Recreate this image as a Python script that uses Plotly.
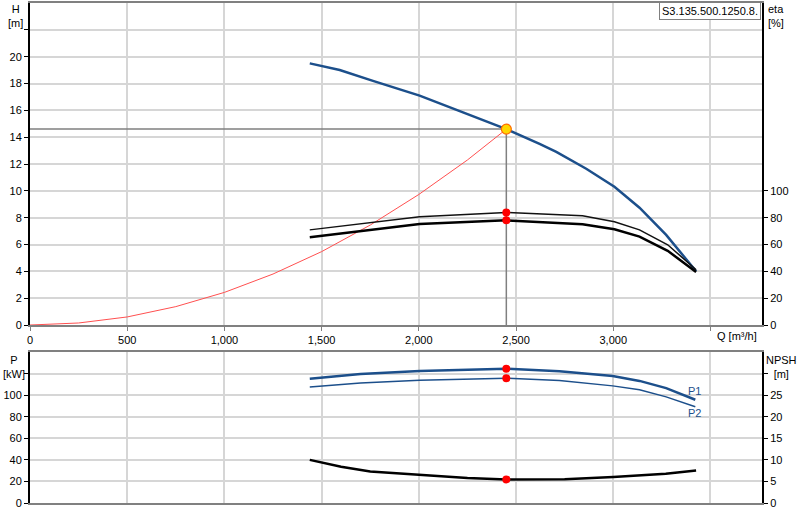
import plotly.graph_objects as go

# pump curve data
q_h = [1439, 1593, 1764, 2004, 2227, 2450, 2621, 2707, 2861, 3006, 3135, 3272, 3426]
h = [19.5, 19.0, 18.2, 17.1, 15.85, 14.6, 13.5, 12.9, 11.65, 10.3, 8.74, 6.72, 4.0]

q_sys = [0, 250, 500, 750, 1000, 1250, 1500, 1750, 2000, 2250, 2450]
h_sys = [0, 0.15, 0.6, 1.37, 2.43, 3.8, 5.47, 7.45, 9.73, 12.3, 14.6]

q_eta = [1439, 1764, 2004, 2450, 2842, 3006, 3135, 3280, 3426]
eta1 = [70.9, 76.5, 80.7, 83.9, 81.5, 77.0, 70.9, 59.8, 41.2]
eta2 = [65.4, 70.9, 75.3, 78.0, 75.1, 71.4, 65.9, 55.3, 39.5]

q_p = [1439, 1700, 2004, 2450, 2723, 2997, 3135, 3272, 3422]
p1 = [115.3, 119.5, 122.4, 124.5, 122.2, 117.8, 113.2, 106.5, 95.7]
p2 = [107.6, 111.3, 113.8, 115.7, 113.5, 108.6, 104.9, 98.4, 89.2]

q_npsh = [1439, 1600, 1750, 2004, 2250, 2450, 2750, 3000, 3270, 3426]
npsh = [10.0, 8.4, 7.3, 6.5, 5.8, 5.47, 5.5, 6.0, 6.8, 7.54]

# duty point
q_op = 2450
h_op = 14.6
eta1_op = 83.9
eta2_op = 78.0
p1_op = 124.5
p2_op = 115.7
npsh_op = 5.47

x_ticks = [0, 500, 1000, 1500, 2000, 2500, 3000, 3500]
x_labels = ["0", "500", "1,000", "1,500", "2,000", "2,500", "3,000", ""]

BLUE = "#1c4f8b"
GRID = "#d6d6d6"
FONT = dict(family="Liberation Sans, Arial, sans-serif", size=11, color="#000000")

fig = go.Figure()

# top chart
fig.add_trace(go.Scatter(x=q_sys, y=h_sys, mode="lines",
                         line=dict(color="#ff5050", width=1), xaxis="x", yaxis="y"))
fig.add_trace(go.Scatter(x=[0, q_op, q_op], y=[h_op, h_op, 0], mode="lines",
                         line=dict(color="#808080", width=1.5), xaxis="x", yaxis="y"))
fig.add_trace(go.Scatter(x=q_eta, y=eta1, mode="lines",
                         line=dict(color="#111111", width=1.5), xaxis="x", yaxis="y2"))
fig.add_trace(go.Scatter(x=q_eta, y=eta2, mode="lines",
                         line=dict(color="#000000", width=2.5), xaxis="x", yaxis="y2"))
fig.add_trace(go.Scatter(x=q_h, y=h, mode="lines",
                         line=dict(color=BLUE, width=2.5), xaxis="x", yaxis="y"))
fig.add_trace(go.Scatter(x=[q_op, q_op], y=[eta1_op, eta2_op], mode="markers",
                         marker=dict(color="#ff0000", size=8), xaxis="x", yaxis="y2"))
fig.add_trace(go.Scatter(x=[q_op], y=[h_op], mode="markers",
                         marker=dict(color="#ffd700", size=10, line=dict(color="#ff6a00", width=1.2)),
                         xaxis="x", yaxis="y"))

# bottom chart
fig.add_trace(go.Scatter(x=q_p, y=p1, mode="lines",
                         line=dict(color=BLUE, width=2.5), xaxis="x2", yaxis="y3"))
fig.add_trace(go.Scatter(x=q_p, y=p2, mode="lines",
                         line=dict(color=BLUE, width=1.5), xaxis="x2", yaxis="y3"))
fig.add_trace(go.Scatter(x=q_npsh, y=npsh, mode="lines",
                         line=dict(color="#000000", width=2.5), xaxis="x2", yaxis="y4"))
fig.add_trace(go.Scatter(x=[q_op, q_op], y=[p1_op, p2_op], mode="markers",
                         marker=dict(color="#ff0000", size=8), xaxis="x2", yaxis="y3"))
fig.add_trace(go.Scatter(x=[q_op], y=[npsh_op], mode="markers",
                         marker=dict(color="#ff0000", size=8), xaxis="x2", yaxis="y4"))

top_dom = [0.356, 1]
bot_dom = [0, 0.302]
x_range = [0, 3765]

fig.update_layout(
    width=800, height=520,
    margin=dict(l=30, r=38, t=1, b=17),
    paper_bgcolor="white", plot_bgcolor="white",
    showlegend=False, hovermode=False,
    font=FONT,
    xaxis=dict(domain=[0, 1], range=x_range, anchor="y",
               tickvals=x_ticks, ticktext=x_labels,
               showgrid=True, gridcolor=GRID, gridwidth=1.5,
               showline=True, linecolor="#808080", linewidth=2, mirror=True,
               ticks="outside", ticklen=4, tickcolor="#808080", zeroline=False),
    yaxis=dict(domain=top_dom, range=[0, 24], anchor="x",
               tickvals=list(range(0, 24, 2)),
               ticktext=[str(v) for v in range(0, 21, 2)] + [""],
               showgrid=True, gridcolor=GRID, gridwidth=1.5,
               showline=True, linecolor="#000000", linewidth=2,
               ticks="outside", ticklen=4, tickcolor="#000000", zeroline=False),
    yaxis2=dict(range=[0, 240], overlaying="y", side="right", anchor="x",
                tickvals=list(range(0, 101, 20)),
                showgrid=False, showline=True, linecolor="#000000", linewidth=2,
                ticks="outside", ticklen=4, tickcolor="#000000", zeroline=False),
    xaxis2=dict(domain=[0, 1], range=x_range, anchor="y3",
                tickvals=x_ticks, showticklabels=False,
                showgrid=True, gridcolor=GRID, gridwidth=1.5,
                showline=True, linecolor="#808080", linewidth=2, mirror=True,
                zeroline=False),
    yaxis3=dict(domain=bot_dom, range=[0, 140], anchor="x2",
                tickvals=list(range(0, 121, 20)),
                ticktext=[str(v) for v in range(0, 101, 20)] + [""],
                showgrid=True, gridcolor=GRID, gridwidth=1.5,
                showline=True, linecolor="#000000", linewidth=2,
                ticks="outside", ticklen=4, tickcolor="#000000", zeroline=False),
    yaxis4=dict(range=[0, 35], overlaying="y3", side="right", anchor="x2",
                tickvals=list(range(0, 31, 5)),
                ticktext=[str(v) for v in range(0, 26, 5)] + [""],
                showgrid=False, showline=True, linecolor="#000000", linewidth=2,
                ticks="outside", ticklen=4, tickcolor="#000000", zeroline=False),
)

ann = [
    dict(text="H<br>[m]", xref="paper", yref="paper", x=0, y=1, xshift=-15, yshift=2,
         xanchor="center", yanchor="top", align="center"),
    dict(text="eta<br>[%]", xref="paper", yref="paper", x=1, y=1, xshift=4, yshift=2,
         xanchor="left", yanchor="top", align="left"),
    dict(text="S3.135.500.1250.8.", xref="paper", yref="paper", x=1, y=1, xshift=-1, yshift=1,
         xanchor="right", yanchor="top", bgcolor="white", bordercolor="#808080",
         borderwidth=1, borderpad=2),
    dict(text="Q [m³/h]", xref="x", yref="y", x=3638, y=0, yshift=-3,
         xanchor="center", yanchor="top"),
    dict(text="P<br>[kW]", xref="paper", yref="paper", x=0, y=bot_dom[1], xshift=-16,
         xanchor="center", yanchor="top", align="center"),
    dict(text="NPSH<br>[m]", xref="paper", yref="paper", x=1, y=bot_dom[1], xshift=19,
         xanchor="center", yanchor="top", align="center"),
    dict(text="P1", xref="x2", yref="y3", x=3417, y=104,
         font=dict(color=BLUE, size=11)),
    dict(text="P2", xref="x2", yref="y3", x=3417, y=83,
         font=dict(color=BLUE, size=11)),
]
for a in ann:
    a["showarrow"] = False
fig.update_layout(annotations=ann)

# drop the default page margin so the chart sits at the window's corner
fig.write_html("out.html", config={"displayModeBar": False},
               post_script="document.body.style.margin='0';")
